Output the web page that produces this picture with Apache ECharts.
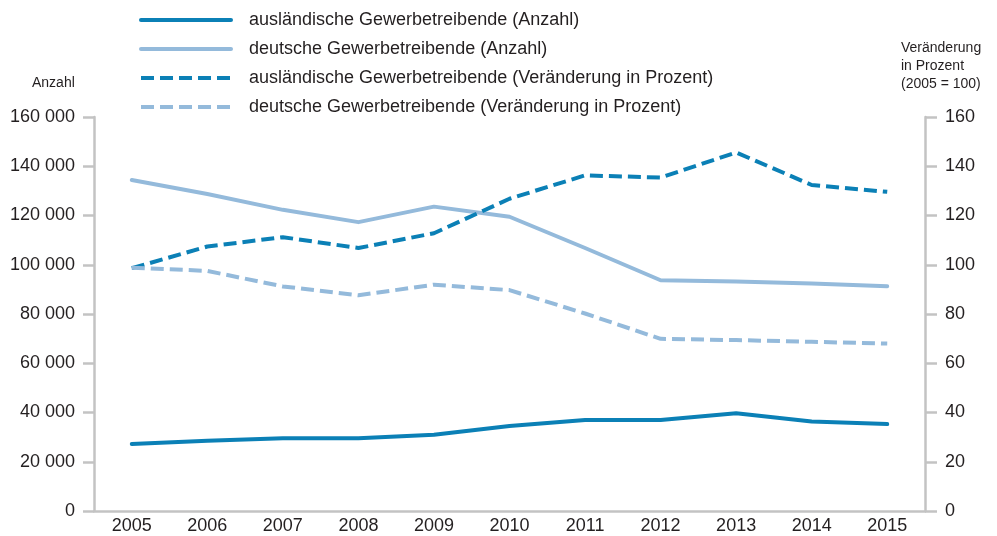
<!DOCTYPE html>
<html>
<head>
<meta charset="utf-8">
<script src="https://cdn.jsdelivr.net/npm/echarts@6/dist/echarts.min.js"></script>
<style>html,body{margin:0;padding:0;background:#fff}#c{width:997px;height:536px}</style>
</head>
<body>
<div id="c"></div>
<script>
var years = ['2005','2006','2007','2008','2009','2010','2011','2012','2013','2014','2015'];
var auslAnzahl = [27200, 28500, 29500, 29500, 31000, 34500, 37000, 37000, 39700, 36300, 35300];
var deutAnzahl = [134400, 128700, 122300, 117300, 123600, 119500, 106800, 93700, 93200, 92400, 91300];
var auslProzent = [98.6, 107.4, 111.2, 106.8, 112.8, 126.8, 136.3, 135.4, 145.6, 132.4, 129.6];
var deutProzent = [98.8, 97.5, 91.2, 87.6, 91.9, 89.7, 80.2, 69.9, 69.4, 68.7, 68.0];
var seriesNames = [
  'ausländische Gewerbetreibende (Anzahl)',
  'deutsche Gewerbetreibende (Anzahl)',
  'ausländische Gewerbetreibende (Veränderung in Prozent)',
  'deutsche Gewerbetreibende (Veränderung in Prozent)'
];
var leftTicks = {min: 0, max: 160000, interval: 20000};
var rightTicks = {min: 0, max: 160, interval: 20};
var leftName = 'Anzahl';
var rightName = 'Veränderung\nin Prozent\n(2005 = 100)';

var DARK = '#0b80b6', LIGHT = '#94badb', AXIS = '#c3c3c3', TXT = '#231f20';
var FONT = '"Liberation Sans", Arial, sans-serif';
var DASH = [13, 6];

function fmt(v){ return String(v).replace(/\B(?=(\d{3})+(?!\d))/g, ' '); }

var chart = echarts.init(document.getElementById('c'));
chart.setOption({
  animation: false,
  textStyle: {fontFamily: FONT},
  grid: {left: 94, right: 72, top: 117, bottom: 25, containLabel: false},
  legend: {
    orient: 'vertical', left: 139, top: 11, padding: 0,
    itemWidth: 90, itemHeight: 18, itemGap: 11,
    itemStyle: {opacity: 0},
    lineStyle: {width: 4},
    textStyle: {fontSize: 18, color: TXT, fontFamily: FONT, padding: [0, 0, 0, 13]},
    data: seriesNames
  },
  graphic: [
    {type: 'text', left: 32, top: 76, style: {text: leftName, font: '14px ' + FONT, fill: TXT}},
    {type: 'text', left: 901, top: 39, style: {text: rightName, font: '14px ' + FONT, fill: TXT, lineHeight: 18}}
  ],
  xAxis: {
    type: 'category', data: years, boundaryGap: true,
    axisLine: {lineStyle: {color: AXIS, width: 2.5}},
    axisTick: {length: 13, lineStyle: {color: AXIS, width: 2.5}, interval: function(i){ return i !== 0; }},
    axisLabel: {fontSize: 18, color: TXT, margin: 6, fontFamily: FONT},
    splitLine: {show: false}
  },
  yAxis: [
    {
      type: 'value', position: 'left', min: leftTicks.min, max: leftTicks.max, interval: leftTicks.interval,
      axisLine: {show: true, lineStyle: {color: AXIS, width: 2.5}},
      axisTick: {show: true, length: 11, lineStyle: {color: AXIS, width: 2.5}},
      axisLabel: {fontSize: 18, color: TXT, margin: 19, formatter: fmt, fontFamily: FONT},
      splitLine: {show: false}
    },
    {
      type: 'value', position: 'right', min: rightTicks.min, max: rightTicks.max, interval: rightTicks.interval,
      axisLine: {show: true, lineStyle: {color: AXIS, width: 2.5}},
      axisTick: {show: true, length: 12, lineStyle: {color: AXIS, width: 2.5}},
      axisLabel: {fontSize: 18, color: TXT, margin: 20, fontFamily: FONT},
      splitLine: {show: false}
    }
  ],
  series: [
    {name: seriesNames[0], type: 'line', yAxisIndex: 0, data: auslAnzahl, symbol: 'none', color: DARK,
     lineStyle: {width: 4, color: DARK, cap: 'round', join: 'round'}},
    {name: seriesNames[1], type: 'line', yAxisIndex: 0, data: deutAnzahl, symbol: 'none', color: LIGHT,
     lineStyle: {width: 4, color: LIGHT, cap: 'round', join: 'round'}},
    {name: seriesNames[2], type: 'line', yAxisIndex: 1, data: auslProzent, symbol: 'none', color: DARK,
     lineStyle: {width: 4, color: DARK, type: DASH, join: 'round'}},
    {name: seriesNames[3], type: 'line', yAxisIndex: 1, data: deutProzent, symbol: 'none', color: LIGHT,
     lineStyle: {width: 4, color: LIGHT, type: DASH, join: 'round'}}
  ]
});
</script>
</body>
</html>
